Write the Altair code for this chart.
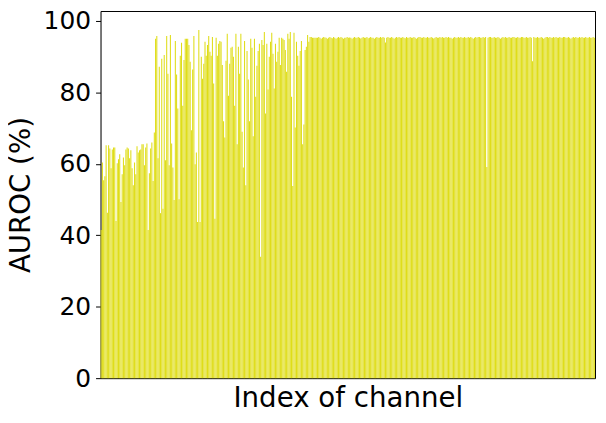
import altair as alt
import pandas as pd

# AUROC (%) per channel
auroc_part1 = [41.5, 60.4, 55.4, 56.5, 65.2, 46.3, 65.2, 64.3, 58.8, 64.0, 64.6, 64.6, 44.0, 60.2, 61.3,
               62.7, 49.3, 57.1, 61.8, 59.6, 64.0, 64.6, 64.3, 61.6, 63.8, 58.8, 54.0, 60.4, 57.1, 64.9,
               63.2, 63.8, 64.0, 65.5, 65.5, 59.6, 64.6, 65.7, 41.5, 57.4, 64.3, 66.0, 55.2]
auroc_part2 = [68.8, 95.0, 95.8, 61.6, 87.2, 46.2, 89.4, 47.4, 90.5, 61.0, 95.8, 85.2, 59.6, 96.1, 65.7,
               59.0, 49.9, 94.4, 85.0, 75.5, 50.1, 90.3, 93.9, 76.3, 89.1, 95.0, 95.0, 95.0, 93.3, 88.6,
               69.4, 86.4, 95.8, 59.9, 63.2, 43.7, 97.5, 43.7, 90.0, 83.8, 88.0, 94.2, 90.3, 93.3]
auroc_part3 = [95.8, 91.4, 90.3, 95.5, 82.5, 44.6, 95.3, 90.3, 93.6, 94.4, 94.2, 87.7, 71.9, 67.4, 88.9,
               96.4, 79.1, 88.0, 92.5, 92.8, 90.0, 76.3, 96.4, 65.5, 92.8, 85.2, 96.4, 69.0, 59.0, 94.4,
               54.0, 91.6, 83.6, 71.9, 95.0, 92.5, 67.7, 95.0, 78.8, 87.5, 91.6, 93.6, 34.0, 94.7]
auroc_part4 = [93.3, 96.9, 74.1, 93.6, 80.8, 90.0, 94.2, 96.7, 90.8, 81.1, 93.6, 88.6, 91.4, 95.3, 87.7,
               95.3, 95.0, 94.7, 91.9, 85.8, 96.4, 95.0, 96.9, 78.8, 53.8, 96.7, 70.2, 94.2, 90.3, 87.5,
               91.6, 94.4, 65.5, 71.0, 91.9, 92.8, 96.1, 94.2, 95.5, 95.5, 95.3, 95.3, 95.3, 95.3]
auroc_plateau = [
    95.3, 95.5, 95.3, 95.0, 95.3, 95.5, 95.4, 95.3, 95.0, 95.3, 95.5, 95.3, 95.2, 95.5, 95.3,
    95.0, 95.3, 95.5, 95.3, 95.5, 95.3, 95.0, 95.3, 95.3, 95.5, 95.3, 95.4, 95.3, 95.0, 95.3,
    95.5, 95.3, 95.3, 95.5, 95.3, 95.1, 95.3, 95.5, 95.3, 95.3, 95.5, 95.2, 95.3, 95.5, 95.3,
    95.3, 95.0, 95.3, 95.5, 95.3, 95.3, 95.5, 95.3, 95.5, 95.3, 94.0, 95.3, 95.5, 95.3, 95.3,
    95.5, 95.3, 95.0, 95.3, 95.5, 95.3, 95.5, 95.3, 95.3, 95.5, 95.3, 95.2, 95.5, 95.3, 95.3,
    95.5, 95.3, 95.3, 95.5, 95.3, 95.0, 95.3, 95.5, 95.5, 95.3, 95.3, 95.5, 95.3, 95.3, 95.5,
    95.3, 95.3, 95.5, 95.3, 95.1, 95.3, 95.5, 95.3, 95.3, 95.5, 95.3, 95.5, 95.3, 95.3, 95.5,
    95.3, 95.5, 95.3, 95.3, 95.0, 95.3, 95.5, 95.3, 95.3, 95.5, 95.3, 95.5, 95.3, 95.3, 95.5,
    95.3, 95.3, 95.5, 95.3, 95.5, 95.3, 95.0, 95.3, 95.5, 95.3, 95.5, 95.5, 95.3, 95.3, 95.5,
    95.3, 95.5, 59.1, 95.3, 95.5, 95.5, 95.3, 95.3, 95.5, 95.3, 95.3, 95.5, 95.3, 95.0, 95.3,
    95.5, 95.3, 95.5, 95.3, 95.3, 95.5, 95.3, 95.3, 95.5, 95.5, 95.3, 95.3, 95.5, 95.3, 95.3,
    95.5, 95.5, 95.3, 95.3, 95.5, 95.3, 95.3, 95.5, 95.3, 88.7, 95.5, 95.3, 95.3, 95.5, 95.3,
    95.3, 95.5, 95.3, 95.0, 95.3, 95.5, 95.5, 95.3, 95.5, 95.3, 95.3, 95.5, 95.3, 95.5, 95.3,
    95.3, 95.5, 95.3, 95.3, 95.5, 95.5, 95.3, 95.3, 95.5, 95.3, 95.0, 95.3, 95.5, 95.3, 95.5,
    95.3, 95.3, 95.5, 95.3, 95.5, 95.3, 95.3, 95.5, 95.3, 95.3, 95.5, 95.3, 95.3, 95.5, 95.3,
]
y_ticks = [0, 20, 40, 60, 80, 100]

values = auroc_part1 + auroc_part2 + auroc_part3 + auroc_part4 + auroc_plateau
df = pd.DataFrame({"channel": list(range(len(values))), "auroc": values})

FONT = "DejaVu Sans"

x_scale = alt.Scale(paddingInner=0.15, paddingOuter=0.1)
y_scale = alt.Scale(domain=[0, 102.8], nice=False, zero=True)

bars = (
    alt.Chart(df)
    .mark_bar(color="#dfdd18")
    .encode(
        x=alt.X(
            "channel:O",
            scale=x_scale,
            axis=alt.Axis(
                title="Index of channel",
                labels=False,
                ticks=False,
                domain=True,
                domainColor="black",
                domainWidth=1,
                titleFontSize=27.8,
                titleFontWeight="normal",
                titleFont=FONT,
                titleColor="black",
                titlePadding=6,
            ),
        ),
        y=alt.Y(
            "auroc:Q",
            scale=y_scale,
            axis=alt.Axis(
                title="AUROC (%)",
                values=y_ticks,
                grid=False,
                domain=True,
                domainColor="black",
                domainWidth=1,
                tickSize=5,
                tickWidth=1,
                tickColor="black",
                labelPadding=5,
                labelFontSize=25,
                labelFont=FONT,
                labelColor="black",
                titleFontSize=27.8,
                titleFontWeight="normal",
                titleFont=FONT,
                titleColor="black",
                titlePadding=8,
            ),
        ),
    )
)

# invisible layer that only carries the top and right frame lines
frame = (
    alt.Chart(df)
    .mark_bar(opacity=0)
    .encode(
        x=alt.X(
            "channel:O",
            axis=alt.Axis(orient="top", labels=False, ticks=False, title=None,
                          domain=True, domainColor="black", domainWidth=1),
        ),
        y=alt.Y(
            "auroc:Q",
            axis=alt.Axis(orient="right", labels=False, ticks=False, title=None, grid=False,
                          domain=True, domainColor="black", domainWidth=1),
        ),
    )
)

chart = (
    alt.layer(bars, frame)
    .resolve_axis(x="independent", y="independent")
    .properties(
        width=497,
        height=369,
        autosize=alt.AutoSizeParams(type="none"),
        padding={"left": 93, "top": 2, "right": 3, "bottom": 34},
    )
    .configure_view(stroke="transparent")
    .configure(background="white")
)

chart.save("out.html", embed_options={"renderer": "svg", "actions": False})
